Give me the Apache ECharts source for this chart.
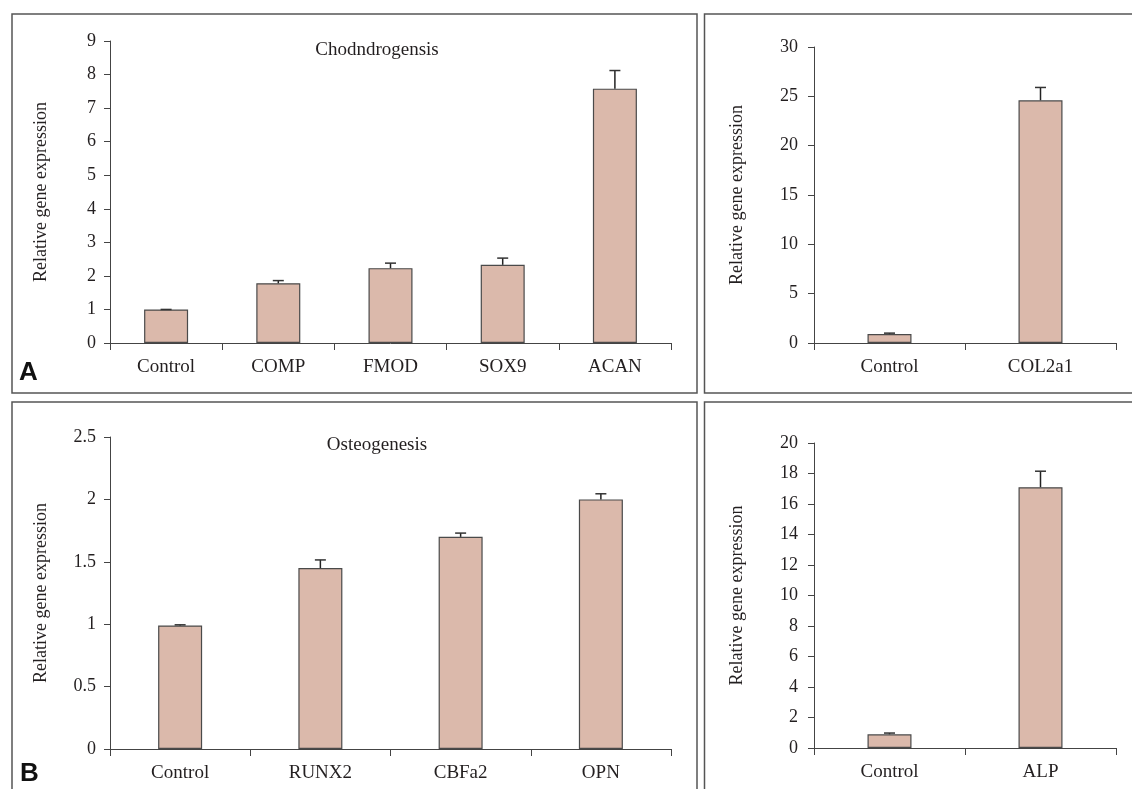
<!DOCTYPE html>
<html><head><meta charset="utf-8">
<script src="https://cdn.jsdelivr.net/npm/echarts@6/dist/echarts.min.js"></script>
<style>html,body{margin:0;padding:0;background:#fff}#c{width:1132px;height:789px}</style>
</head><body><div id="c"></div>
<script>
const chondroCats = ['Control','COMP','FMOD','SOX9','ACAN'];
const chondroVals = [1.0, 1.78, 2.23, 2.33, 7.58];
const chondroErr  = [1.0, 1.86, 2.38, 2.53, 8.12];
const col2Cats = ['Control','COL2a1'];
const col2Vals = [0.9, 24.6];
const col2Err  = [1.0, 25.9];
const osteoCats = ['Control','RUNX2','CBFa2','OPN'];
const osteoVals = [0.99, 1.45, 1.70, 2.0];
const osteoErr  = [0.995, 1.515, 1.73, 2.045];
const alpCats = ['Control','ALP'];
const alpVals = [0.9, 17.1];
const alpErr  = [0.98, 18.15];
const yName = 'Relative gene expression';

const FONT = 'Liberation Serif';
const TXT = '#231f20';
const chart = echarts.init(document.getElementById('c'));

const grids = [
  {left:110, top:41, width:561, height:302},
  {left:814, top:47, width:302, height:296},
  {left:110, top:437, width:561, height:312},
  {left:814, top:443, width:302, height:305}
];
const yCfg = [
  {max:9, interval:1, gap:60, margin:14},
  {max:30, interval:5, gap:68, margin:16},
  {max:2.5, interval:0.5, gap:60, margin:14},
  {max:20, interval:2, gap:68, margin:16}
];
const cats = [chondroCats, col2Cats, osteoCats, alpCats];
const vals = [chondroVals, col2Vals, osteoVals, alpVals];
const errs = [chondroErr, col2Err, osteoErr, alpErr];

const xAxis = cats.map((c,i)=>({
  type:'category', gridIndex:i, data:c,
  axisLine:{lineStyle:{color:'#444', width:1}},
  axisTick:{show:true, length:7, lineStyle:{color:'#444'}},
  axisLabel:{color:TXT, fontFamily:FONT, fontSize:19, margin:15}
}));
const yAxis = yCfg.map((y,i)=>({
  type:'value', gridIndex:i, min:0, max:y.max, interval:y.interval,
  name: yName, nameLocation:'middle', nameRotate:90, nameGap:y.gap,
  nameTextStyle:{color:TXT, fontFamily:FONT, fontSize:18},
  axisLine:{show:true, lineStyle:{color:'#444', width:1}},
  axisTick:{show:true, length:6, lineStyle:{color:'#444'}},
  splitLine:{show:false},
  axisLabel:{color:TXT, fontFamily:FONT, fontSize:18, margin:y.margin}
}));

const series = [];
for (let i=0;i<4;i++){
  series.push({
    type:'bar', xAxisIndex:i, yAxisIndex:i, data:vals[i], barWidth:44,
    itemStyle:{color:'#dbb9ab', borderColor:'#4a4a4a', borderWidth:1.2},
    z:2
  });
  series.push({
    type:'custom', xAxisIndex:i, yAxisIndex:i,
    data: errs[i].map((e,k)=>[k, vals[i][k], e]),
    renderItem:(params, api)=>{
      const base = api.coord([api.value(0), api.value(1)]);
      const top = api.coord([api.value(0), api.value(2)]);
      return {type:'group', children:[
        {type:'line', shape:{x1:base[0], y1:base[1], x2:top[0], y2:top[1]}, style:{stroke:'#222', lineWidth:1.5}},
        {type:'line', shape:{x1:top[0]-5.5, y1:top[1], x2:top[0]+5.5, y2:top[1]}, style:{stroke:'#333', lineWidth:1.5}}
      ]};
    },
    z:3
  });
}

const frameStyle = {stroke:'#555', fill:null, lineWidth:1.5};
chart.setOption({
  animation:false,
  grid:grids,
  xAxis, yAxis, series,
  graphic:[
    {type:'rect', shape:{x:12, y:14, width:685, height:379}, style:frameStyle, silent:true},
    {type:'rect', shape:{x:704.5, y:14, width:440, height:379}, style:frameStyle, silent:true},
    {type:'rect', shape:{x:12, y:402, width:685, height:400}, style:frameStyle, silent:true},
    {type:'rect', shape:{x:704.5, y:402, width:440, height:400}, style:frameStyle, silent:true},
    {type:'text', x:377, y:50, style:{text:'Chodndrogensis', fill:TXT, font:'19px "Liberation Serif"', textAlign:'center', textVerticalAlign:'middle'}},
    {type:'text', x:377, y:445, style:{text:'Osteogenesis', fill:TXT, font:'19px "Liberation Serif"', textAlign:'center', textVerticalAlign:'middle'}},
    {type:'text', x:19, y:386, style:{text:'A', fill:'#111', font:'bold 26px "Liberation Sans"', textAlign:'left', textVerticalAlign:'bottom'}},
    {type:'text', x:20, y:787, style:{text:'B', fill:'#111', font:'bold 26px "Liberation Sans"', textAlign:'left', textVerticalAlign:'bottom'}}
  ]
});
</script></body></html>
